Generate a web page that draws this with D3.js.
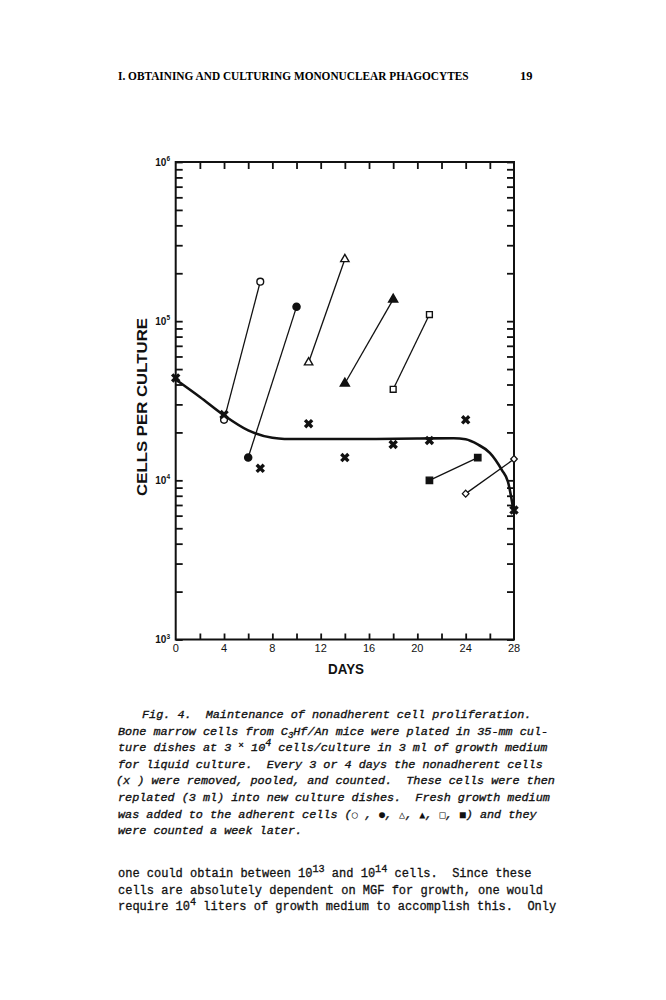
<!DOCTYPE html>
<html><head><meta charset="utf-8">
<script src="https://cdn.jsdelivr.net/npm/d3@7"></script>
<style>
html,body{margin:0;padding:0;background:#fff;}
svg{display:block;}
</style></head>
<body>
<svg id="c" width="666" height="1000"></svg>
<script>
// ---- data ----
const curveDays   = [0, 2, 4, 6, 8, 9, 12, 16, 20, 23, 24, 25, 26, 27, 27.5, 28];
const curveValues = [43000, 33400, 25600, 20600, 18500, 18200, 18200, 18200, 18300, 18400, 18100, 16800, 14900, 11600, 9800, 6200];

const nonadhDays   = [0, 4, 7, 11, 14, 18, 21, 24, 28];
const nonadhValues = [44000, 25900, 11900, 22700, 13900, 16800, 17800, 24000, 6500];

const adhSymbols = ["openCircle", "filledCircle", "openTriangle", "filledTriangle", "openSquare", "filledSquare", "openDiamond"];
const adhStartDay = [4, 6, 11, 14, 18, 21, 24];
const adhStartVal = [24000, 13900, 55000, 40600, 37300, 10000, 8250];
const adhEndDay   = [7, 10, 14, 18, 21, 25, 28];
const adhEndVal   = [177000, 123000, 245000, 137000, 110000, 13900, 13600];

const xMajorTicks = [0, 4, 8, 12, 16, 20, 24, 28];
const xMinorTicks = [2, 4, 6, 8, 10, 12, 14, 16, 18, 20, 22, 24, 26];
const yDecades = [1000, 10000, 100000, 1000000];
const yDecadeExp = ["3", "4", "5", "6"];

const header = "I. OBTAINING AND CULTURING MONONUCLEAR PHAGOCYTES";
const pageNo = "19";

// ---- drawing ----
const svg = d3.select("#c");
const X0 = 175.7, X1 = 514, Y0 = 639.5, Y1 = 162;
const x = d3.scaleLinear().domain([0, 28]).range([X0, X1]);
const y = d3.scaleLog().domain([1000, 1000000]).range([Y0, Y1]);

// fit a text horizontally to a width by scaling
function fitText(sel, tx, ty, width, rotate) {
  const w = sel.node().getComputedTextLength();
  const s = width / w;
  sel.attr("transform", `translate(${tx},${ty})` + (rotate ? " rotate(-90)" : "") + ` scale(${s},1)`);
}

// header
const hd = svg.append("text").attr("x", 0).attr("y", 0)
  .attr("font-family", "Liberation Serif, serif").attr("font-weight", "bold")
  .attr("font-size", 13.5).text(header);
fitText(hd, 118, 80, 351, false);
svg.append("text").attr("x", 520).attr("y", 80)
  .attr("font-family", "Liberation Serif, serif").attr("font-weight", "bold")
  .attr("font-size", 12.5).text(pageNo);

// all minor ticks on y
const yTicks = [];
[1000, 10000, 100000].forEach(d => { for (let k = 1; k <= 9; k++) yTicks.push(d * k); });
yTicks.push(1000000);

const axisStyle = g => {
  g.select(".domain").remove();
  g.selectAll(".tick line").attr("stroke", "#111").attr("stroke-width", 1.8);
};

svg.append("g").attr("transform", `translate(0,${Y1})`)
  .call(d3.axisTop(x).tickValues(xMinorTicks).tickSize(-7).tickFormat(""))
  .call(axisStyle);
svg.append("g").attr("transform", `translate(0,${Y0})`)
  .call(d3.axisBottom(x).tickValues(xMinorTicks).tickSize(-6).tickFormat(""))
  .call(axisStyle);
svg.append("g").attr("transform", `translate(${X0},0)`)
  .call(d3.axisLeft(y).tickValues(yTicks).tickSize(-7).tickFormat(""))
  .call(axisStyle);
svg.append("g").attr("transform", `translate(${X1},0)`)
  .call(d3.axisRight(y).tickValues(yTicks).tickSize(-7).tickFormat(""))
  .call(axisStyle);

// frame
svg.append("rect").attr("x", X0).attr("y", Y1).attr("width", X1 - X0).attr("height", Y0 - Y1)
  .attr("fill", "none").attr("stroke", "#111").attr("stroke-width", 2);

// x labels
svg.append("g").selectAll("text").data(xMajorTicks).join("text")
  .attr("x", d => x(d)).attr("y", 652)
  .attr("text-anchor", "middle").attr("font-family", "Liberation Sans, sans-serif")
  .attr("font-size", 11).attr("fill", "#111").text(d => d);

// y labels
const yl = svg.append("g").selectAll("text").data(yDecades).join("text")
  .attr("x", 170).attr("y", d => y(d) + 3.5)
  .attr("text-anchor", "end").attr("font-family", "Liberation Sans, sans-serif")
  .attr("font-size", 10).attr("font-weight", "bold").attr("fill", "#111");
yl.append("tspan").text("10");
yl.append("tspan").attr("dy", -4.5).attr("font-size", 6.5).text((d, i) => yDecadeExp[i]);

// axis titles
const ylab = svg.append("text").attr("x", 0).attr("y", 0)
  .attr("text-anchor", "middle").attr("font-family", "Liberation Sans, sans-serif")
  .attr("font-weight", "bold").attr("font-size", 15.5)
  .attr("fill", "#111").text("CELLS PER CULTURE");
fitText(ylab, 147, 407, 178, true);
const xlab = svg.append("text").attr("x", 0).attr("y", 0)
  .attr("text-anchor", "middle").attr("font-family", "Liberation Sans, sans-serif")
  .attr("font-weight", "bold").attr("font-size", 15)
  .attr("fill", "#111").text("DAYS");
fitText(xlab, 346, 674, 36, false);

// curve
const line = d3.line().x((d, i) => x(curveDays[i])).y(d => y(d)).curve(d3.curveMonotoneX);
svg.append("path").attr("d", line(curveValues))
  .attr("fill", "none").attr("stroke", "#111").attr("stroke-width", 2.6);

// adherent segments
const segs = adhSymbols.map((s, i) => ({s, d0: adhStartDay[i], v0: adhStartVal[i], d1: adhEndDay[i], v1: adhEndVal[i]}));
svg.append("g").selectAll("line").data(segs).join("line")
  .attr("x1", d => x(d.d0)).attr("y1", d => y(d.v0))
  .attr("x2", d => x(d.d1)).attr("y2", d => y(d.v1))
  .attr("stroke", "#111").attr("stroke-width", 1.3);

const symType = {
  openCircle: [d3.symbolCircle, 36, false],
  filledCircle: [d3.symbolCircle, 40, true],
  openTriangle: [d3.symbolTriangle, 30, false],
  filledTriangle: [d3.symbolTriangle, 36, true],
  openSquare: [d3.symbolSquare, 34, false],
  filledSquare: [d3.symbolSquare, 40, true],
  openDiamond: [d3.symbolDiamond, 22, false]
};
const pts = [];
segs.forEach(d => { pts.push({s: d.s, d: d.d0, v: d.v0}); pts.push({s: d.s, d: d.d1, v: d.v1}); });
svg.append("g").selectAll("path").data(pts).join("path")
  .attr("transform", d => `translate(${x(d.d)},${y(d.v)})` + (d.s === "openDiamond" ? " scale(1.3,0.8)" : ""))
  .attr("d", d => d3.symbol().type(symType[d.s][0]).size(symType[d.s][1])())
  .attr("fill", d => symType[d.s][2] ? "#111" : "#fff")
  .attr("stroke", "#111").attr("stroke-width", d => d.s === "openDiamond" ? 1.2 : 1.4);

// nonadherent X markers
const crossType = {draw(ctx, size) { const r = Math.sqrt(size) / 2;
  ctx.moveTo(-r, -r); ctx.lineTo(r, r); ctx.moveTo(r, -r); ctx.lineTo(-r, r); }};
svg.append("g").selectAll("path").data(nonadhDays).join("path")
  .attr("transform", (d, i) => `translate(${x(d)},${y(nonadhValues[i])})`)
  .attr("d", d3.symbol().type(crossType).size(50)())
  .attr("fill", "none").attr("stroke", "#111").attr("stroke-width", 3.4);

// caption
const mono = "Liberation Mono, Courier New, monospace";
const cap = svg.append("text").attr("font-family", mono).attr("font-style", "italic")
  .attr("font-size", 11.8).attr("fill", "#111").attr("stroke", "#111").attr("stroke-width", 0.35)
  .attr("xml:space", "preserve");
const capLines = [
  [142, [["Fig. 4.  Maintenance of nonadherent cell proliferation."]]],
  [118, [["Bone marrow cells from C"], ["3", "sub"], ["Hf/An mice were plated in 35-mm cul-"]]],
  [118, [["ture dishes at 3 "], ["×", "x"], [" 10"], ["4", "sup"], [" cells/culture in 3 ml of growth medium"]]],
  [118, [["for liquid culture.  Every 3 or 4 days the nonadherent cells"]]],
  [116, [["(x ) were removed, pooled, and counted.  These cells were then"]]],
  [118, [["replated (3 ml) into new culture dishes.  Fresh growth medium"]]],
  [118, [["was added to the adherent cells ("], ["○", "g"], [" , "], ["●", "g"], [", "], ["△", "g"], [", "], ["▲", "g"], [", "], ["□", "g"], [", "], ["■", "g"], [") and they"]]],
  [118, [["were counted a week later."]]]
];
function writeLinesSafe(el, lines, y0, dy, mainSize) {
  lines.forEach((ln, li) => {
    let shift = 0;
    ln[1].forEach((part, pi) => {
      const t = el.append("tspan").text(part[0]);
      let want = 0;
      if (part[1] === "sub") { want = 3; t.attr("font-size", mainSize * 0.75); }
      else if (part[1] === "sup") { want = -5; t.attr("font-size", mainSize * 0.85); }
      else if (part[1] === "x") { want = -3; t.attr("font-size", mainSize * 0.8); }
      else if (part[1] === "g") { t.attr("font-family", "DejaVu Sans Mono, monospace").attr("font-style", "normal").attr("font-size", mainSize * 0.85).attr("stroke-width", 0); }
      if (pi === 0) { t.attr("x", ln[0]).attr("y", y0 + li * dy + want); }
      else { t.attr("dy", want - shift); }
      shift = want;
    });
  });
}
writeLinesSafe(cap, capLines, 718, 16.6, 11.8);

const body = svg.append("text").attr("font-family", mono)
  .attr("font-size", 12).attr("fill", "#111").attr("stroke", "#111").attr("stroke-width", 0.3)
  .attr("xml:space", "preserve");
const bodyLines = [
  [118, [["one could obtain between 10"], ["13", "sup"], [" and 10"], ["14", "sup"], [" cells.  Since these"]]],
  [118, [["cells are absolutely dependent on MGF for growth, one would"]]],
  [118, [["require 10"], ["4", "sup"], [" liters of growth medium to accomplish this.  Only"]]]
];
writeLinesSafe(body, bodyLines, 877, 16.6, 12);
</script>
</body></html>
